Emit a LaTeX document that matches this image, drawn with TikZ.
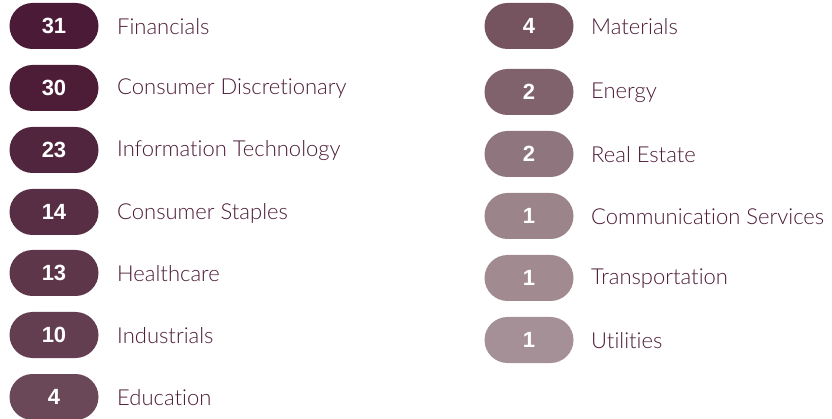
\documentclass[tikz,border=0pt]{standalone}
\usepackage{fontspec}
\setmainfont{Lato}[UprightFont=* Light, Ligatures={NoCommon,NoRare,NoDiscretionary}]
\newfontfamily\numfont{Liberation Sans}
\definecolor{txt}{HTML}{4B1A36}
\definecolor{cA}{HTML}{4B1A36}
\definecolor{cB}{HTML}{4D1D38}
\definecolor{cC}{HTML}{51253D}
\definecolor{cD}{HTML}{572E43}
\definecolor{cE}{HTML}{5D3649}
\definecolor{cF}{HTML}{633E50}
\definecolor{cG}{HTML}{6B4858}
\definecolor{cH}{HTML}{75535F}
\definecolor{cI}{HTML}{80626D}
\definecolor{cJ}{HTML}{8F757D}
\definecolor{cK}{HTML}{9B848A}
\definecolor{cL}{HTML}{A18B91}
\definecolor{cM}{HTML}{A49096}
\tikzset{
  pill/.style={rounded rectangle, minimum width=89pt, minimum height=46pt, inner sep=0pt,
    text=white, font=\numfont\bfseries\fontsize{22}{24}\selectfont},
  lbl/.style={anchor=west, inner sep=0pt, text=txt, font=\fontsize{22}{24}\selectfont},
}
\usetikzlibrary{shapes.misc}
\begin{document}
\begin{tikzpicture}[x=1pt,y=1pt]
\useasboundingbox (0,0) rectangle (832,-419);
% left column
\node[pill, fill=cA] (p1) at (54,-26) {31};
\node[lbl] (l1) at (117,-27) {Financials};
\node[pill, fill=cB] (p2) at (54,-88) {30};
\node[lbl] (l2) at (117,-89) {Consumer Discretionary};
\node[pill, fill=cC] (p3) at (54,-150) {23};
\node[lbl] (l3) at (117,-151) {Information Technology};
\node[pill, fill=cD] (p4) at (54,-212) {14};
\node[lbl] (l4) at (117,-213) {Consumer Staples};
\node[pill, fill=cE] (p5) at (54,-273) {13};
\node[lbl] (l5) at (117,-274) {Healthcare};
\node[pill, fill=cF] (p6) at (54,-335) {10};
\node[lbl] (l6) at (117,-336) {Industrials};
\node[pill, fill=cG] (p7) at (54,-397) {4};
\node[lbl] (l7) at (117,-398) {Education};
% right column
\node[pill, fill=cH] (q1) at (529,-26) {4};
\node[lbl] (m1) at (591,-27) {Materials};
\node[pill, fill=cI] (q2) at (529,-92) {2};
\node[lbl] (m2) at (591,-93) {Energy};
\node[pill, fill=cJ] (q3) at (529,-154) {2};
\node[lbl] (m3) at (591,-155) {Real Estate};
\node[pill, fill=cK] (q4) at (529,-216) {1};
\node[lbl] (m4) at (591,-217) {Communication Services};
\node[pill, fill=cL] (q5) at (529,-278) {1};
\node[lbl] (m5) at (591,-279) {Transportation};
\node[pill, fill=cM] (q6) at (529,-340) {1};
\node[lbl] (m6) at (591,-341) {Utilities};
\end{tikzpicture}
\end{document}
